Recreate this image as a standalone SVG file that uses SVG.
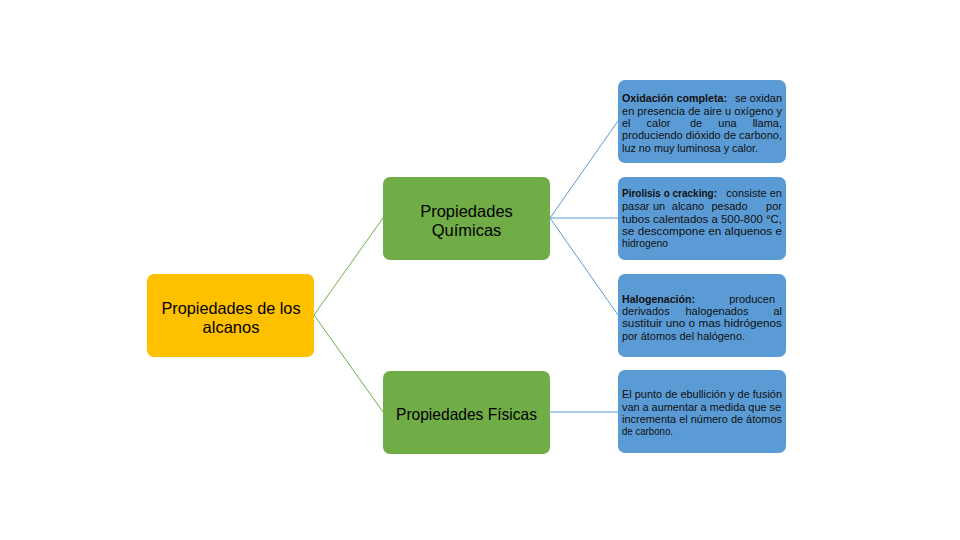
<svg xmlns="http://www.w3.org/2000/svg" width="960" height="540" viewBox="0 0 960 540">
<style>
.big{font-family:"Liberation Sans","Open Sans",sans-serif;font-size:16.5px;fill:#000}
.sm{font-family:"Liberation Sans","Open Sans",sans-serif;font-size:11px;fill:#111}
.b{font-weight:bold}
.m{text-anchor:middle}
.e{text-anchor:end}
.root{fill:#FFC000}
.green{fill:#70AD47}
.blue{fill:#5B9BD5}
.cg{stroke:#70AD47;stroke-width:1;fill:none}
.cb{stroke:#5B9BD5;stroke-width:1;fill:none}
</style>
<rect width="960" height="540" fill="#fff"/>
<g id="connectors">
<line class="cg" x1="314" y1="315" x2="383" y2="218"/>
<line class="cg" x1="314" y1="315" x2="383" y2="412"/>
<line class="cb" x1="550" y1="218" x2="618" y2="121"/>
<line class="cb" x1="550" y1="218" x2="618" y2="218"/>
<line class="cb" x1="550" y1="218" x2="618" y2="315"/>
<line class="cb" x1="550" y1="412" x2="618" y2="412"/>
</g>
<g id="root">
<rect class="root" x="147" y="274" width="167" height="83" rx="7"/>
<text class="big m" x="231" y="314" textLength="139" lengthAdjust="spacingAndGlyphs">Propiedades de los</text>
<text class="big m" x="231" y="333">alcanos</text>
</g>
<g id="quimicas">
<rect class="green" x="383" y="177" width="167" height="83" rx="7"/>
<text class="big m" x="466.5" y="217">Propiedades</text>
<text class="big m" x="466.5" y="236">Químicas</text>
</g>
<g id="fisicas">
<rect class="green" x="383" y="371" width="167" height="83" rx="7"/>
<text class="big m" x="466.5" y="420" textLength="141" lengthAdjust="spacingAndGlyphs">Propiedades Físicas</text>
</g>
<g id="oxidacion">
<rect class="blue" x="618" y="80" width="168" height="83" rx="7"/>
<text class="sm b" x="622" y="102" textLength="105" lengthAdjust="spacingAndGlyphs">Oxidación completa:</text>
<text class="sm e" x="782" y="102">se oxidan</text>
<text class="sm" x="622" y="115" textLength="160" lengthAdjust="spacingAndGlyphs">en presencia de aire u oxígeno y</text>
<text class="sm" x="622" y="127">el</text>
<text class="sm m" x="658.5" y="127">calor</text>
<text class="sm m" x="696" y="127">de</text>
<text class="sm m" x="727.5" y="127">una</text>
<text class="sm e" x="782" y="127">llama,</text>
<text class="sm" x="622" y="139" textLength="160" lengthAdjust="spacingAndGlyphs">produciendo dióxido de carbono,</text>
<text class="sm" x="622" y="152" textLength="136" lengthAdjust="spacingAndGlyphs">luz no muy luminosa y calor.</text>
</g>
<g id="pirolisis">
<rect class="blue" x="618" y="177" width="168" height="83" rx="7"/>
<text class="sm b" x="622" y="197" textLength="95" lengthAdjust="spacingAndGlyphs">Pirolisis o cracking:</text>
<text class="sm e" x="782" y="197">consiste en</text>
<text class="sm" x="622" y="210">pasar</text>
<text class="sm m" x="659" y="210">un</text>
<text class="sm m" x="688" y="210">alcano</text>
<text class="sm m" x="729.5" y="210">pesado</text>
<text class="sm e" x="782" y="210">por</text>
<text class="sm" x="622" y="223" textLength="160" lengthAdjust="spacingAndGlyphs">tubos calentados a 500-800 °C,</text>
<text class="sm" x="622" y="235" textLength="160" lengthAdjust="spacingAndGlyphs">se descompone en alquenos e</text>
<text class="sm" x="622" y="247" textLength="46" lengthAdjust="spacingAndGlyphs">hidrogeno</text>
</g>
<g id="halogenacion">
<rect class="blue" x="618" y="274" width="168" height="83" rx="7"/>
<text class="sm b" x="622" y="303" textLength="73" lengthAdjust="spacingAndGlyphs">Halogenación:</text>
<text class="sm e" x="775" y="303">producen</text>
<text class="sm" x="622" y="315">derivados</text>
<text class="sm m" x="717" y="315">halogenados</text>
<text class="sm e" x="782" y="315">al</text>
<text class="sm" x="622" y="327" textLength="160" lengthAdjust="spacingAndGlyphs">sustituir uno o mas hidrógenos</text>
<text class="sm" x="622" y="340" textLength="123" lengthAdjust="spacingAndGlyphs">por átomos del halógeno.</text>
</g>
<g id="fisicas-desc">
<rect class="blue" x="618" y="370" width="168" height="83" rx="7"/>
<text class="sm" x="622" y="398" textLength="160" lengthAdjust="spacingAndGlyphs">El punto de ebullición y de fusión</text>
<text class="sm" x="622" y="411" textLength="159" lengthAdjust="spacingAndGlyphs">van a aumentar a medida que se</text>
<text class="sm" x="622" y="423" textLength="160" lengthAdjust="spacingAndGlyphs">incrementa el número de átomos</text>
<text class="sm" x="622" y="435" textLength="51" lengthAdjust="spacingAndGlyphs">de carbono.</text>
</g>
</svg>
